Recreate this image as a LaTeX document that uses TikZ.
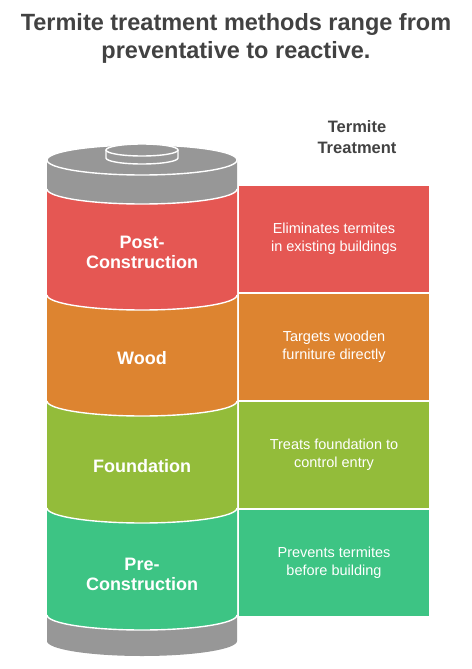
\documentclass[tikz,border=0pt]{standalone}
\usepackage{fontspec}
\setmainfont{Liberation Sans}
\usepackage{tikz}
\usetikzlibrary{positioning}
\definecolor{postred}{HTML}{E55753}
\definecolor{woodorange}{HTML}{DD8430}
\definecolor{foundolive}{HTML}{93BC3A}
\definecolor{pregreen}{HTML}{3DC484}
\definecolor{capgrey}{HTML}{979797}
\definecolor{titlegrey}{HTML}{424242}
\tikzset{
  layerlabel/.style={text=white, font=\bfseries\fontsize{18}{20}\selectfont, align=center},
  descbox/.style={minimum width=190pt, minimum height=106pt, inner sep=0pt, text=white,
                  font=\fontsize{14.5}{18}\selectfont, align=center},
  sepline/.style={draw=white, line width=1.4pt}
}
\begin{document}
\begin{tikzpicture}[x=1pt,y=1pt]
	\useasboundingbox (0,0) rectangle (471,-669);
	\fill[white] (0,0) rectangle (471,-669);
	% -------------- Title --------------
	\node[text=titlegrey, font=\bfseries\fontsize{23.5}{28}\selectfont, align=center] (title) at (236,-38) {Termite treatment methods range from\\preventative to reactive.};
	\node[text=titlegrey, font=\bfseries\fontsize{16.5}{21}\selectfont, align=center] (header) at (357,-137) {Termite\\Treatment};
	% -------------- Base --------------
	\fill[capgrey] (47,-615) -- (47,-641) arc[start angle=180, end angle=360, x radius=95, y radius=15] -- (237,-615) -- cycle;
	% -------------- Layers (bottom first) --------------
	\fill[pregreen]   (47,-508) -- (47,-615) arc[start angle=180, end angle=360, x radius=95, y radius=15] -- (237,-508) -- cycle;
	\fill[foundolive] (47,-401) -- (47,-508) arc[start angle=180, end angle=360, x radius=95, y radius=15] -- (237,-401) -- cycle;
	\fill[woodorange] (47,-295) -- (47,-401) arc[start angle=180, end angle=360, x radius=95, y radius=15] -- (237,-295) -- cycle;
	\fill[postred]    (47,-189) -- (47,-295) arc[start angle=180, end angle=360, x radius=95, y radius=15] -- (237,-189) -- cycle;
	% -------------- Top cap --------------
	\fill[capgrey] (47,-160) -- (47,-189) arc[start angle=180, end angle=360, x radius=95, y radius=15] -- (237,-160) -- cycle;
	\draw[sepline, fill=capgrey] (142,-160) ellipse [x radius=95, y radius=15];
	\draw[sepline, fill=capgrey] (106,-150) -- (106,-158) arc[start angle=180, end angle=360, x radius=36, y radius=6] -- (178,-150);
	\draw[sepline, fill=capgrey] (142,-150) ellipse [x radius=36, y radius=6];
	% -------------- Separators --------------
	\draw[sepline] (47,-189) arc[start angle=180, end angle=360, x radius=95, y radius=15];
	\draw[sepline] (47,-295) arc[start angle=180, end angle=360, x radius=95, y radius=15];
	\draw[sepline] (47,-401) arc[start angle=180, end angle=360, x radius=95, y radius=15];
	\draw[sepline] (47,-508) arc[start angle=180, end angle=360, x radius=95, y radius=15];
	\draw[sepline] (47,-615) arc[start angle=180, end angle=360, x radius=95, y radius=15];
	% -------------- Layer labels --------------
	\node[layerlabel] (lPost)  at (142,-252) {Post-\\Construction};
	\node[layerlabel] (lWood)  at (142,-358) {Wood};
	\node[layerlabel] (lFound) at (142,-466) {Foundation};
	\node[layerlabel] (lPre)   at (142,-574) {Pre-\\Construction};
	% -------------- Descriptions --------------
	\node[descbox, fill=postred]    (dPost)  at (334,-239) {Eliminates termites\\in existing buildings};
	\node[descbox, fill=woodorange] (dWood)  at (334,-347) {Targets wooden\\furniture directly};
	\node[descbox, fill=foundolive] (dFound) at (334,-455) {Treats foundation to\\control entry};
	\node[descbox, fill=pregreen]   (dPre)   at (334,-563) {Prevents termites\\before building};
\end{tikzpicture}
\end{document}
